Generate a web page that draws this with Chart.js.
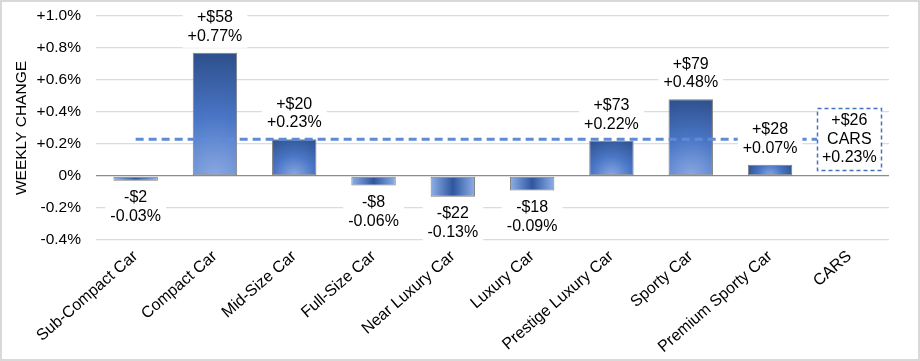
<!DOCTYPE html>
<html>
<head>
<meta charset="utf-8">
<script src="https://cdn.jsdelivr.net/npm/chart.js@4"></script>
<style>
  body { margin: 0; background: #fff; }
  #wrap { width: 920px; height: 361px; box-sizing: border-box; border: 2px solid #d9d9d9; }
</style>
</head>
<body>
<div id="wrap"><canvas id="chart" width="916" height="357"></canvas></div>
<script>
var categories = ["Sub-Compact Car", "Compact Car", "Mid-Size Car", "Full-Size Car", "Near Luxury Car",
                  "Luxury Car", "Prestige Luxury Car", "Sporty Car", "Premium Sporty Car", "CARS"];
var pctChange = [-0.03, 0.77, 0.23, -0.06, -0.13, -0.09, 0.22, 0.48, 0.07, null];
var dollarChange = [-2, 58, 20, -8, -22, -18, 73, 79, 28, 26];
var carsAverage = [0.23, 0.23, 0.23, 0.23, 0.23, 0.23, 0.23, 0.23, 0.23, 0.23];
var yTicks = [-0.4, -0.2, 0, 0.2, 0.4, 0.6, 0.8, 1.0];

var BAR_PCT = 0.56;
var FONT = "'Liberation Sans', Arial, sans-serif";

function fmtPct(v) {
  if (Math.abs(v) < 1e-9) return "0%";
  return (v > 0 ? "+" : "-") + Math.abs(v).toFixed(1) + "%";
}
function fmtPctLabel(v) {
  return (v >= 0 ? "+" : "-") + Math.abs(v).toFixed(2) + "%";
}
function fmtDollar(v) {
  return (v >= 0 ? "+$" : "-$") + Math.abs(v);
}

function barFill(ctx) {
  var chart = ctx.chart;
  if (!chart.chartArea || ctx.raw == null) return "#4472c4";
  var c = chart.ctx;
  var xs = chart.scales.x, ys = chart.scales.y;
  var cx = xs.getPixelForValue(ctx.dataIndex);
  var w = xs.width / categories.length * BAR_PCT;
  var y0 = ys.getPixelForValue(0);
  var y1 = ys.getPixelForValue(ctx.raw);
  var g;
  if (ctx.raw >= 0) {
    var h = y0 - y1;
    var r = Math.sqrt(w * w / 4 + h * h) * 1.05;
    g = c.createRadialGradient(cx, y0, 0, cx, y0, r);
    g.addColorStop(0, "#8aa9e2");
    g.addColorStop(0.45, "#4a76c6");
    g.addColorStop(1, "#2a4a84");
  } else {
    g = c.createLinearGradient(cx - w / 2, 0, cx + w / 2, 0);
    g.addColorStop(0, "#8fb0e6");
    g.addColorStop(0.5, "#2f56a0");
    g.addColorStop(1, "#8fb0e6");
  }
  return g;
}

var labelPlugin = {
  id: "valueLabels",
  afterDatasetsDraw: function(chart) {
    var c = chart.ctx;
    var xs = chart.scales.x, ys = chart.scales.y;
    c.save();
    c.font = "16px " + FONT;
    c.textAlign = "center";
    c.textBaseline = "middle";
    var lh = 18.5;
    for (var i = 0; i < categories.length; i++) {
      var cx = xs.getPixelForValue(i);
      var lines, cy;
      if (pctChange[i] == null) {
        lines = [fmtDollar(dollarChange[i]), "CARS", fmtPctLabel(carsAverage[i])];
        cy = ys.getPixelForValue(carsAverage[i]);
      } else {
        var v = pctChange[i];
        lines = [fmtDollar(dollarChange[i]), fmtPctLabel(v)];
        var yv = ys.getPixelForValue(v);
        var half = lines.length * lh / 2;
        cy = v >= 0 ? yv - 7 - half : yv + 8 + half;
      }
      var wmax = 0;
      lines.forEach(function(t) { wmax = Math.max(wmax, c.measureText(t).width); });
      var bw = wmax + 10, bh = lines.length * lh + 4;
      c.fillStyle = "#fff";
      c.fillRect(cx - bw / 2, cy - bh / 2, bw, bh);
      if (pctChange[i] == null) {
        c.strokeStyle = "#4472c4";
        c.lineWidth = 1.5;
        c.setLineDash([4, 3]);
        var bx = Math.round(cx - 32) + 0.5, by = Math.round(cy - 31) + 0.5;
        c.fillRect(bx, by, 64, 62);
        c.strokeRect(bx, by, 64, 62);
        c.setLineDash([]);
      }
      c.fillStyle = "#000";
      lines.forEach(function(t, k) {
        c.fillText(t, cx, cy - (lines.length - 1) * lh / 2 + k * lh);
      });
    }
    c.restore();
  }
};

new Chart(document.getElementById("chart"), {
  type: "bar",
  data: {
    labels: categories,
    datasets: [
      {
        type: "line",
        label: "CARS",
        data: carsAverage,
        borderColor: "#5f8ad6",
        borderWidth: 3,
        borderDash: [8, 5],
        pointRadius: 0,
        fill: false,
        order: 0
      },
      {
        label: "Weekly change",
        data: pctChange,
        backgroundColor: barFill,
        borderColor: "#7f7f7f",
        borderWidth: 1,
        borderSkipped: false,
        categoryPercentage: 1,
        barPercentage: BAR_PCT,
        order: 1
      }
    ]
  },
  options: {
    responsive: false,
    animation: false,
    layout: { padding: { top: 14, right: 29, left: 6, bottom: 0 } },
    plugins: { legend: { display: false }, tooltip: { enabled: false } },
    scales: {
      x: {
        grid: { display: false, drawTicks: false },
        border: { display: false },
        ticks: {
          color: "#000",
          font: { family: FONT, size: 16 },
          minRotation: 41,
          maxRotation: 41,
          padding: 7,
          autoSkip: false
        },
        afterFit: function(s) { s.height = 119; s.paddingLeft = 0; s.paddingRight = 0; }
      },
      y: {
        min: -0.4,
        max: 1.0,
        afterBuildTicks: function(s) { s.ticks = yTicks.map(function(v) { return { value: v }; }); },
        grid: {
          color: function(ctx) { return ctx.tick && Math.abs(ctx.tick.value) < 1e-9 ? "#8c8c8c" : "#dcdcdc"; },
          lineWidth: 1.3,
          drawTicks: false
        },
        border: { display: false },
        ticks: {
          color: "#000",
          font: { family: FONT, size: 15.5 },
          padding: 15,
          callback: function(v) { return fmtPct(v); }
        },
        title: {
          display: true,
          text: "WEEKLY CHANGE",
          color: "#000",
          font: { family: FONT, size: 15.5 },
          padding: { top: 4, bottom: 0 }
        },
        afterFit: function(s) { s.width = 88; s.paddingTop = 0; s.paddingBottom = 0; }
      }
    }
  },
  plugins: [labelPlugin]
});
</script>
</body>
</html>
